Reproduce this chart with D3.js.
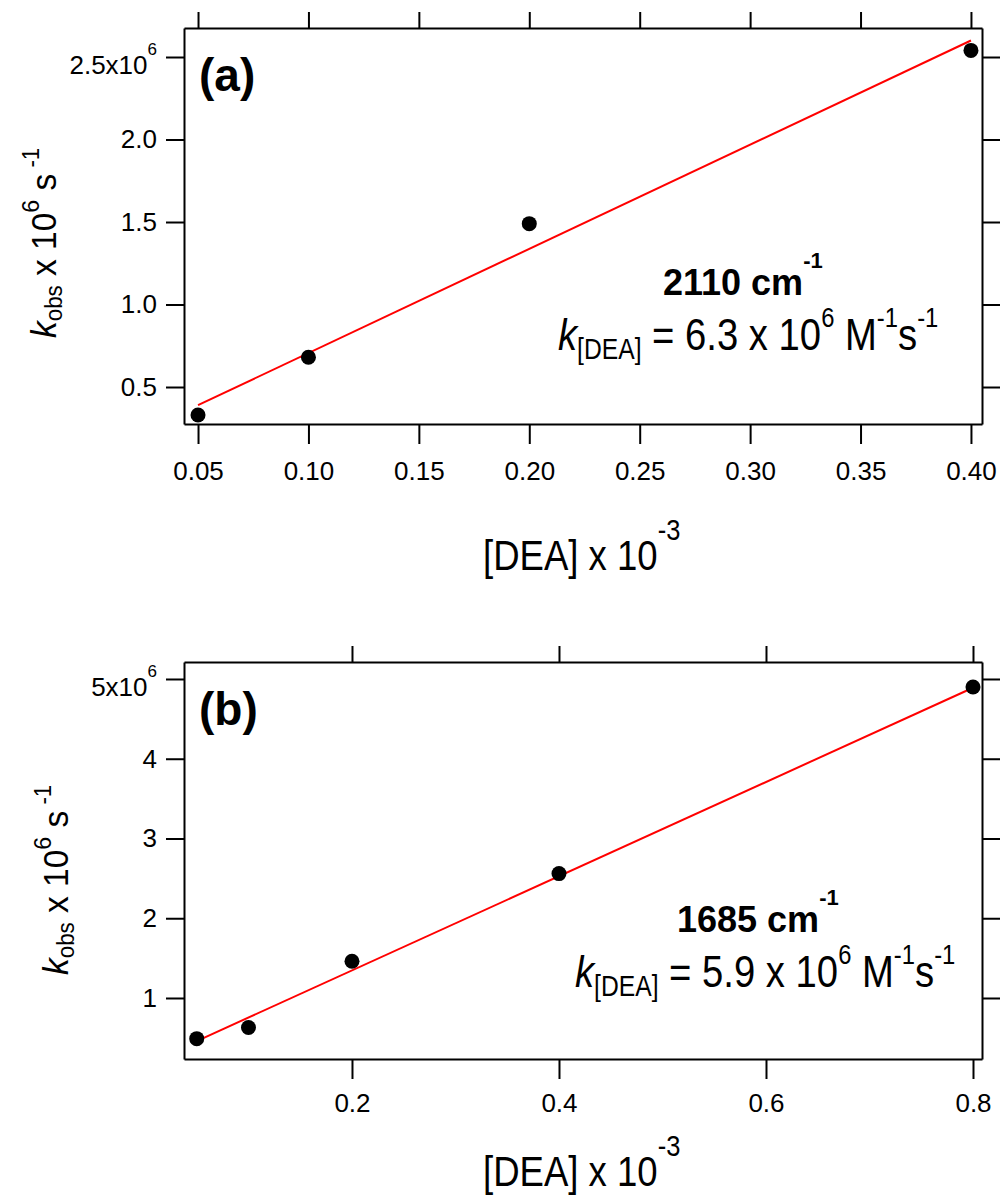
<!DOCTYPE html>
<html>
<head>
<meta charset="utf-8">
<script src="https://cdn.jsdelivr.net/npm/d3@7"></script>
<style>
  body { margin: 0; background: #fff; }
  svg text { font-family: "Liberation Sans", Arial, sans-serif; white-space: pre; }
</style>
</head>
<body>
<script>

const xA = [0.05, 0.10, 0.20, 0.40];
const yA = [0.33, 0.68, 1.49, 2.54];
const fitXA = [0.05, 0.40];
const fitYA = [0.39, 2.60];
const xTicksA = [0.05, 0.10, 0.15, 0.20, 0.25, 0.30, 0.35, 0.40];
const yTicksA = [0.5, 1.0, 1.5, 2.0, 2.5];

const xB = [0.05, 0.10, 0.20, 0.40, 0.80];
const yB = [0.49, 0.63, 1.46, 2.56, 4.90];
const fitXB = [0.05, 0.80];
const fitYB = [0.46, 4.89];
const xTicksB = [0.2, 0.4, 0.6, 0.8];
const yTicksB = [1, 2, 3, 4, 5];

const svg = d3.select('body')
    .append('svg')
    .attr('width', 1000)
    .attr('height', 1198)

function rich(text, parts) {
    let cur = 0;
    parts.forEach(p => {
        text.append('tspan')
            .attr('font-size', p.size)
            .attr('dy', (p.shift || 0) - cur)
            .attr('font-style', p.italic ? 'italic' : null)
            .attr('font-weight', p.bold ? 'bold' : null)
            .text(p.t);
        cur = p.shift || 0;
    });
}

function panel(c) {
    const x = d3.scaleLinear().domain(c.xDom).range([184, 982]);
    const y = d3.scaleLinear().domain(c.yDom).range(c.yRange);
    const g = svg.append('g');
    const top = c.yTicks[c.yTicks.length - 1];
    const yFmt = d3.format(c.yFmt);

    const styleAxis = a => {
        a.attr('font-size', null).attr('font-family', null);
        a.selectAll('path, line').attr('stroke', '#000').attr('stroke-width', 2);
        a.selectAll('text').attr('font-size', 26).attr('fill', '#000');
    };

    g.append('g')
        .attr('transform', `translate(0,${c.yRange[0]})`)
        .call(d3.axisBottom(x).tickValues(c.xTicks).tickFormat(d3.format(c.xFmt))
            .tickSize(20).tickSizeOuter(0).tickPadding(c.xPad))
        .call(styleAxis);

    g.append('g')
        .attr('transform', `translate(0,${c.yRange[1]})`)
        .call(d3.axisTop(x).tickValues(c.xTicks).tickFormat('').tickSize(16).tickSizeOuter(0))
        .call(styleAxis);

    const left = g.append('g')
        .attr('transform', 'translate(184,0)')
        .call(d3.axisLeft(y).tickValues(c.yTicks)
            .tickFormat(d => d === top ? yFmt(d) + 'x10' : yFmt(d))
            .tickSize(18).tickSizeOuter(0).tickPadding(9))
        .call(styleAxis);

    left.selectAll('.tick')
        .filter(d => d === top)
        .select('text')
        .attr('y', 8)
        .call(t => t.append('tspan').attr('font-size', 17).attr('dy', -19).text('6'));

    g.append('g')
        .attr('transform', 'translate(982,0)')
        .call(d3.axisRight(y).tickValues(c.yTicks).tickFormat('').tickSize(18).tickSizeOuter(0))
        .call(styleAxis);

    g.append('line')
        .attr('x1', x(c.fitX[0])).attr('y1', y(c.fitY[0]))
        .attr('x2', x(c.fitX[1])).attr('y2', y(c.fitY[1]))
        .attr('stroke', '#ff0000')
        .attr('stroke-width', 2)

    g.selectAll('circle')
        .data(c.xs)
        .join('circle')
        .attr('cx', d => x(d))
        .attr('cy', (d, i) => y(c.ys[i]))
        .attr('r', 7.5)
        .attr('fill', '#000')

    g.append('text')
        .attr('x', 199)
        .attr('y', c.labelY)
        .attr('font-size', 46)
        .attr('font-weight', 'bold')
        .text(c.label)

    // y title
    g.append('text')
        .attr('transform', `translate(${c.ytX},${c.ytY}) rotate(-90) scale(0.93,0.97)`)
        .call(t => rich(t, [
            { t: 'k', size: 36, italic: true },
            { t: 'obs', size: 24, shift: 6 },
            { t: ' x 10', size: 36 },
            { t: '6', size: 25, shift: -18 },
            { t: ' s', size: 36 },
            { t: ' -1', size: 24, shift: -18 }
        ]));

    // x title
    g.append('text')
        .attr('transform', `translate(483,${c.xtY}) scale(0.85,1)`)
        .call(t => rich(t, [
            { t: '[DEA] x 10', size: 43 },
            { t: '-3', size: 30, shift: -30 }
        ]));

    g.append('text')
        .attr('x', c.boldX)
        .attr('y', c.boldY)
        .attr('font-weight', 'bold')
        .call(t => rich(t, [
            { t: c.wave + ' cm', size: 36, bold: true },
            { t: '-1', size: 22, bold: true, shift: -27 }
        ]));

    g.append('text')
        .attr('transform', `translate(${c.kX},${c.boldY + 55}) scale(0.85,1)`)
        .call(t => rich(t, [
            { t: 'k', size: 45, italic: true },
            { t: '[DEA]', size: 29, shift: 9 },
            { t: ' = ' + c.k + ' x 10', size: 45 },
            { t: '6', size: 28, shift: -23 },
            { t: ' M', size: 45 },
            { t: '-1', size: 28, shift: -23 },
            { t: 's', size: 45 },
            { t: '-1', size: 28, shift: -23 }
        ]));
}

panel({
    xs: xA, ys: yA, fitX: fitXA, fitY: fitYA,
    xTicks: xTicksA, yTicks: yTicksA, xFmt: '.2f', yFmt: '.1f',
    xDom: [0.04365, 0.405], yDom: [0.2758, 2.6758], yRange: [424, 28],
    xPad: 18, label: '(a)', labelY: 91,
    ytX: 56, ytY: 338, xtY: 570,
    wave: '2110', k: '6.3', boldX: 663, boldY: 295, kX: 558
});

panel({
    xs: xB, ys: yB, fitX: fitXB, fitY: fitYB,
    xTicks: xTicksB, yTicks: yTicksB, xFmt: '.1f', yFmt: 'd',
    xDom: [0.0377, 0.8087], yDom: [0.235, 5.213], yRange: [1059, 662],
    xPad: 15, label: '(b)', labelY: 725,
    ytX: 68, ytY: 975, xtY: 1186,
    wave: '1685', k: '5.9', boldX: 677, boldY: 932, kX: 575
});

</script>
</body>
</html>
